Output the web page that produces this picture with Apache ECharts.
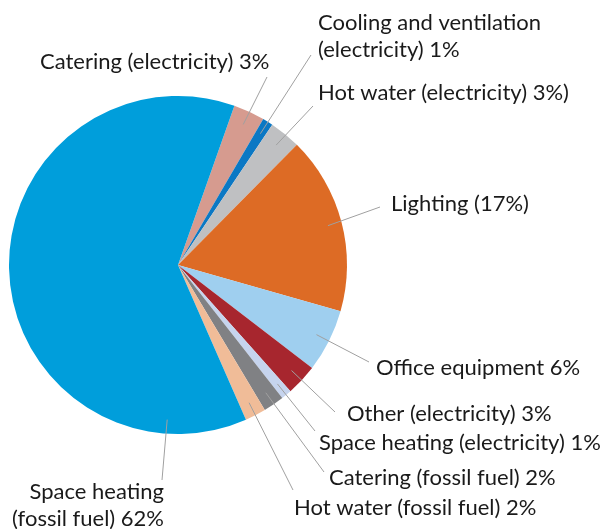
<!DOCTYPE html>
<html lang="en">
<head>
<meta charset="UTF-8">
<title>Energy use pie</title>
<script src="https://cdn.jsdelivr.net/npm/echarts@6/dist/echarts.min.js"></script>
<style>
  html, body { margin: 0; padding: 0; background: #fff; }
  #main { width: 608px; height: 529px; }
</style>
</head>
<body>
<div id="main"></div>
<script>
// slices, clockwise from the top
var labels = [
    'Catering (electricity) 3%',
    'Cooling and ventilation\n(electricity) 1%',
    'Hot water (electricity) 3%)',
    'Lighting (17%)',
    'Office equipment 6%',
    'Other (electricity) 3%',
    'Space heating (electricity) 1%',
    'Catering (fossil fuel) 2%',
    'Hot water (fossil fuel) 2%',
    'Space heating\n(fossil fuel) 62%'
];
var values = [3, 1, 3, 17, 6, 3, 1, 2, 2, 62];
var colors = ['#d69b8f', '#0b78c4', '#bfc0c2', '#dd6b25', '#9fcfef',
              '#a7262e', '#c6d4ee', '#808184', '#f0bc98', '#009edb'];

// where each label sits: [x, y, align, lineEndX, lineEndY]
var labelPos = [
    [40, 62, 'left', 267, 77],
    [318, 36, 'left', 311, 55],
    [318, 93, 'left', 313, 106],
    [391, 204, 'left', 380, 207],
    [376, 368, 'left', 369, 362],
    [347, 414, 'left', 335, 412],
    [319, 443, 'left', 315, 431],
    [329, 478, 'left', 324, 472],
    [294, 508, 'left', 293, 490],
    [164, 505, 'right', 162, 480]
];

var cx = 178, cy = 265, r = 169;
var startAngle = 70.5;   // echarts: 90 = 12 o'clock
var lineStartR = 155;
// the big slice's leader is drawn from its bottom, not its middle
var leaderAngleOverride = { 9: 184 };

var total = values.reduce(function (a, b) { return a + b; }, 0);
var midAngles = [];   // clockwise from 12 o'clock, degrees
var acc = 0;
for (let i = 0; i < values.length; i++) {
    midAngles.push((90 - startAngle) + 360 * (acc + values[i] / 2) / total);
    acc += values[i];
}

var myChart = echarts.init(document.getElementById('main'));

var pieData = [];
var labelData = [];
for (let i = 0; i < values.length; i++) {
    pieData.push({ name: labels[i], value: values[i], itemStyle: { color: colors[i] } });
    labelData.push({ name: labels[i], value: values[i] });
}

var base = {
    type: 'pie',
    center: [cx, cy],
    radius: r,
    startAngle: startAngle,
    avoidLabelOverlap: false,
    silent: true,
    emphasis: { disabled: true }
};

myChart.setOption({
    animation: false,
    series: [
        Object.assign({}, base, {
            z: 2,
            data: pieData,
            label: { show: false },
            labelLine: { show: false }
        }),
        // transparent copy on top, so the leaders can cross the slices
        Object.assign({}, base, {
            z: 3,
            data: labelData,
            itemStyle: { color: 'rgba(0,0,0,0)' },
            label: {
                show: true,
                position: 'outside',
                formatter: '{b}',
                fontFamily: 'Lato',
                fontSize: 22,
                lineHeight: 27,
                color: '#1a1a1a'
            },
            labelLine: {
                show: true,
                lineStyle: { color: '#a0a0a0', width: 1 }
            },
            labelLayout: function (params) {
                var i = params.dataIndex;
                var p = labelPos[i];
                var a = (leaderAngleOverride[i] !== undefined ? leaderAngleOverride[i] : midAngles[i]) * Math.PI / 180;
                var start = [cx + lineStartR * Math.sin(a), cy - lineStartR * Math.cos(a)];
                return {
                    x: p[0],
                    y: p[1],
                    align: p[2],
                    verticalAlign: 'middle',
                    labelLinePoints: [start, [p[3], p[4]], [p[3], p[4]]]
                };
            }
        })
    ]
});
</script>
</body>
</html>
